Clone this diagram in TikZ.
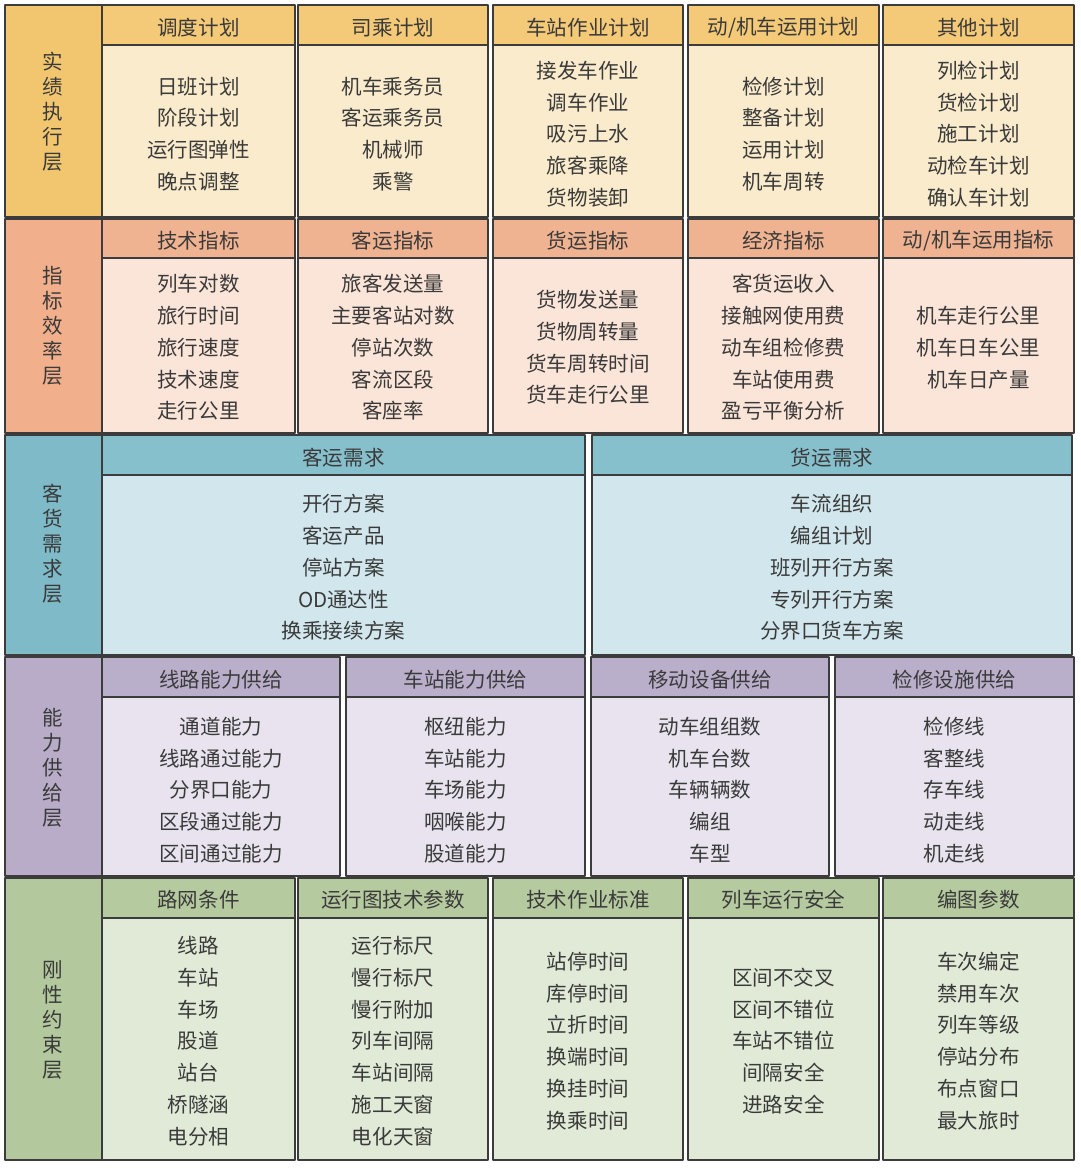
\documentclass[tikz,border=0pt]{standalone}
\usepackage{fontspec}
\setmainfont{Noto Sans CJK SC}
\usepackage{tikz}
\definecolor{framegray}{HTML}{3C3C3C}
\definecolor{textgray}{HTML}{3A3A3A}
\definecolor{sideA}{HTML}{F2C66E}
\definecolor{headA}{HTML}{F4C977}
\definecolor{bodyA}{HTML}{F9EBCB}
\definecolor{sideB}{HTML}{F1AF8C}
\definecolor{headB}{HTML}{F0B391}
\definecolor{bodyB}{HTML}{FBE4D8}
\definecolor{sideC}{HTML}{7EBAC8}
\definecolor{headC}{HTML}{87C0CD}
\definecolor{bodyC}{HTML}{D1E7ED}
\definecolor{sideD}{HTML}{B8ACC8}
\definecolor{headD}{HTML}{BAAFCB}
\definecolor{bodyD}{HTML}{E8E3EE}
\definecolor{sideE}{HTML}{B3C89C}
\definecolor{headE}{HTML}{B6CA9F}
\definecolor{bodyE}{HTML}{E1EAD7}

\begin{document}
\begin{tikzpicture}[x=0.025cm,y=-0.025cm,line join=round,
  frame/.style={draw=framegray,line width=1.1pt},
  txt/.style={text=textgray,font=\fontsize{14.6}{22.6}\selectfont,align=center,inner sep=0pt},
  side/.style={text=textgray,font=\fontsize{14.6}{17.8}\selectfont,align=center,inner sep=0pt}]
\fill[white] (0,0) rectangle (1080,1170);
\useasboundingbox (0,0) rectangle (1080,1170);
% 实绩执行层
\draw[frame,fill=sideA] (5,5) rectangle (102,217);
\node[side] (s-sjzx) at (53,112) {实\\绩\\执\\行\\层};
\foreach \xa/\xb/\nm/\hd/\bd in {
  102/295/ddjh/调度计划/{日班计划\\阶段计划\\运行图弹性\\晚点调整},
  298/488/scjh/司乘计划/{机车乘务员\\客运乘务员\\机械师\\乘警},
  493/683/czzy/车站作业计划/{接发车作业\\调车作业\\吸污上水\\旅客乘降\\货物装卸},
  688/879/jcyy/{动/机车运用计划}/{检修计划\\整备计划\\运用计划\\机车周转},
  883/1074/qtjh/其他计划/{列检计划\\货检计划\\施工计划\\动检车计划\\确认车计划}}{
  \draw[frame,fill=headA] (\xa,5) rectangle (\xb,45);
  \draw[frame,fill=bodyA] (\xa,45) rectangle (\xb,217);
  \node[txt] (h-\nm) at ({(\xa+\xb)/2},27.5) {\hd};
  \node[txt] (b-\nm) at ({(\xa+\xb)/2},134) {\bd};
}
% 指标效率层
\draw[frame,fill=sideB] (5,219) rectangle (102,433);
\node[side] (s-zbxl) at (53,326) {指\\标\\效\\率\\层};
\foreach \xa/\xb/\nm/\hd/\bd in {
  102/295/jszb/技术指标/{列车对数\\旅行时间\\旅行速度\\技术速度\\走行公里},
  298/488/kyzb/客运指标/{旅客发送量\\主要客站对数\\停站次数\\客流区段\\客座率},
  493/683/hyzb/货运指标/{货物发送量\\货物周转量\\货车周转时间\\货车走行公里},
  688/879/jjzb/经济指标/{客货运收入\\接触网使用费\\动车组检修费\\车站使用费\\盈亏平衡分析},
  883/1074/jczb/{动/机车运用指标}/{机车走行公里\\机车日车公里\\机车日产量}}{
  \draw[frame,fill=headB] (\xa,219) rectangle (\xb,258);
  \draw[frame,fill=bodyB] (\xa,258) rectangle (\xb,433);
  \node[txt] (h-\nm) at ({(\xa+\xb)/2},240.5) {\hd};
  \node[txt] (b-\nm) at ({(\xa+\xb)/2},347.5) {\bd};
}
% 客货需求层
\draw[frame,fill=sideC] (5,435) rectangle (102,655);
\node[side] (s-khxq) at (53,544) {客\\货\\需\\求\\层};
\foreach \xa/\xb/\nm/\hd/\bd in {
  102/585/kyxq/客运需求/{开行方案\\客运产品\\停站方案\\OD通达性\\换乘接续方案},
  592/1072/hyxq/货运需求/{车流组织\\编组计划\\班列开行方案\\专列开行方案\\分界口货车方案}}{
  \draw[frame,fill=headC] (\xa,435) rectangle (\xb,475);
  \draw[frame,fill=bodyC] (\xa,475) rectangle (\xb,655);
  \node[txt] (h-\nm) at ({(\xa+\xb)/2},457.5) {\hd};
  \node[txt] (b-\nm) at ({(\xa+\xb)/2},567.5) {\bd};
}
% 能力供给层
\draw[frame,fill=sideD] (5,657) rectangle (102,876);
\node[side] (s-nlgj) at (53,768) {能\\力\\供\\给\\层};
\foreach \xa/\xb/\nm/\hd/\bd in {
  102/340/xlnl/线路能力供给/{通道能力\\线路通过能力\\分界口能力\\区段通过能力\\区间通过能力},
  346/585/cznl/车站能力供给/{枢纽能力\\车站能力\\车场能力\\咽喉能力\\股道能力},
  591/829/ydsb/移动设备供给/{动车组组数\\机车台数\\车辆辆数\\编组\\车型},
  835/1074/jxss/检修设施供给/{检修线\\客整线\\存车线\\动走线\\机走线}}{
  \draw[frame,fill=headD] (\xa,657) rectangle (\xb,697);
  \draw[frame,fill=bodyD] (\xa,697) rectangle (\xb,876);
  \node[txt] (h-\nm) at ({(\xa+\xb)/2},680) {\hd};
  \node[txt] (b-\nm) at ({(\xa+\xb)/2},790) {\bd};
}
% 刚性约束层
\draw[frame,fill=sideE] (5,878) rectangle (102,1160);
\node[side] (s-gxys) at (53,1020) {刚\\性\\约\\束\\层};
\foreach \xa/\xb/\nm/\hd/\bd in {
  102/295/lwtj/路网条件/{线路\\车站\\车场\\股道\\站台\\桥隧涵\\电分相},
  298/488/yxcs/运行图技术参数/{运行标尺\\慢行标尺\\慢行附加\\列车间隔\\车站间隔\\施工天窗\\电化天窗},
  493/683/zybz/技术作业标准/{站停时间\\库停时间\\立折时间\\换端时间\\换挂时间\\换乘时间},
  688/879/yxaq/列车运行安全/{区间不交叉\\区间不错位\\车站不错位\\间隔安全\\进路安全},
  883/1074/btcs/编图参数/{车次编定\\禁用车次\\列车等级\\停站分布\\布点窗口\\最大旅时}}{
  \draw[frame,fill=headE] (\xa,878) rectangle (\xb,918);
  \draw[frame,fill=bodyE] (\xa,918) rectangle (\xb,1160);
  \node[txt] (h-\nm) at ({(\xa+\xb)/2},900) {\hd};
  \node[txt] (b-\nm) at ({(\xa+\xb)/2},1041) {\bd};
}
\end{tikzpicture}
\end{document}
